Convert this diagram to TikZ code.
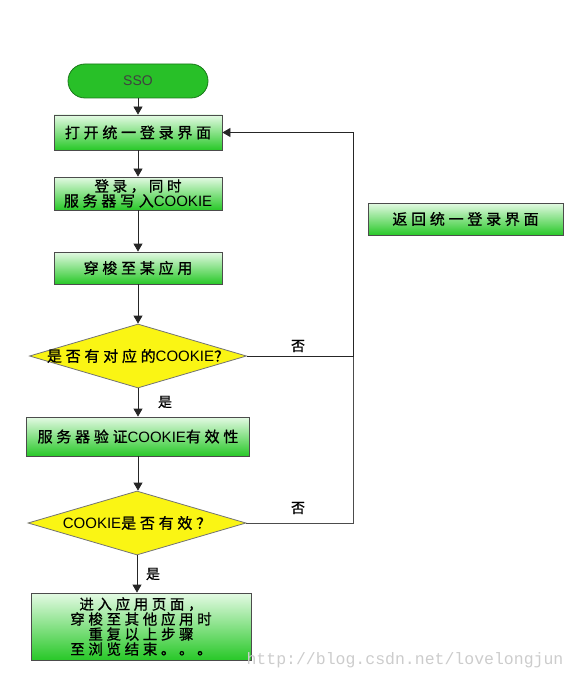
\documentclass[tikz,border=0pt]{standalone}
\usepackage{fontspec}
\setmainfont{Liberation Sans}
\setmonofont{Liberation Mono}
\newfontfamily\cjk[LetterSpace=25,FakeBold=0.8]{Noto Sans CJK SC}
\usetikzlibrary{shapes.geometric,arrows.meta}
\definecolor{boxtop}{RGB}{228,250,228}
\definecolor{boxbot}{RGB}{40,200,40}
\definecolor{ssofill}{RGB}{40,192,40}
\definecolor{ssodraw}{RGB}{25,120,25}
\definecolor{dyellow}{RGB}{250,245,20}
\newcommand\ck{{\rmfamily\fontsize{15}{15}\selectfont COOKIE}}
\tikzset{
  stepbox/.style={rectangle, draw=black!70, line width=0.8pt, top color=boxtop, bottom color=boxbot,
    minimum width=168pt, minimum height=34pt, inner sep=0pt, align=center,
    font=\fontsize{15}{15}\selectfont\cjk},
  decide/.style={diamond, draw=black!55, line width=0.8pt, fill=dyellow, inner sep=0pt,
    minimum width=217pt, minimum height=64pt, font=\fontsize{15}{15}\selectfont\cjk},
  arr/.style={-{Triangle[length=8pt,width=9pt]}, line width=0.8pt, draw=black!85},
  link/.style={line width=0.8pt, draw=black!70},
  tag/.style={font=\fontsize{14}{14}\selectfont\cjk}
}
\begin{document}
\begin{tikzpicture}[x=1pt,y=-1pt]
\useasboundingbox (0,0) rectangle (577,679);
% main column
\node[rectangle, rounded corners=17pt, draw=ssodraw, line width=0.8pt, fill=ssofill,
  minimum width=140pt, minimum height=34pt, text=black!75,
  font=\fontsize{14}{14}\selectfont] (sso) at (138,81) {SSO};
\node[stepbox, minimum height=35pt] (open) at (138,132.5) {打开统一登录界面};
\node[stepbox, minimum height=33pt] (login) at (138,193.5)
  {\fontsize{14.5}{15}\selectfont 登录，同时\\服务器写入\ck};
\node[stepbox, minimum height=32pt] (goapp) at (138,268) {穿梭至某应用};
\node[decide] (hascookie) at (138,356) {\makebox[0pt]{是否有对应的\ck{}？}};
\node[stepbox, minimum width=223pt, minimum height=39pt] (check) at (138,436.5)
  {服务器验证\ck{}有效性};
\node[decide, minimum width=218pt] (valid) at (137,523) {\makebox[0pt]{\ck{}是否有效？}};
\node[stepbox, minimum width=220pt, minimum height=67pt, font=\fontsize{14.5}{15}\selectfont\cjk]
  (enter) at (141,626.5) {进入应用页面，\\穿梭至其他应用时\\重复以上步骤\\至浏览结束。。。};
% side box
\node[stepbox, minimum width=195pt, minimum height=32pt] (back) at (465.5,219) {返回统一登录界面};
% connectors
\coordinate (c1) at (353,356);
\coordinate (c2) at (353,523);
\draw[arr] (sso) -- (open);
\draw[arr] (open) -- (login);
\draw[arr] (login) -- (goapp);
\draw[arr] (goapp) -- (hascookie);
\draw[arr] (hascookie) -- (check);
\draw[arr] (check.south) -- (check.south |- valid.north);
\draw[arr] (valid.south) -- (valid.south |- enter.north);
\draw[link] (valid.east) -- (c2) -- (c1);
\draw[arr] (hascookie.east) -- (c1) |- (open.east);
% labels
\node[tag] (no1) at (298,346) {否};
\node[tag] (yes1) at (165,402) {是};
\node[tag] (no2) at (298,508) {否};
\node[tag] (yes2) at (153,574) {是};
\node[text=black!20, font=\ttfamily\fontsize{16.5}{16.5}\selectfont] (mark) at (405,660)
  {http://blog.csdn.net/lovelongjun};
\end{tikzpicture}
\end{document}
